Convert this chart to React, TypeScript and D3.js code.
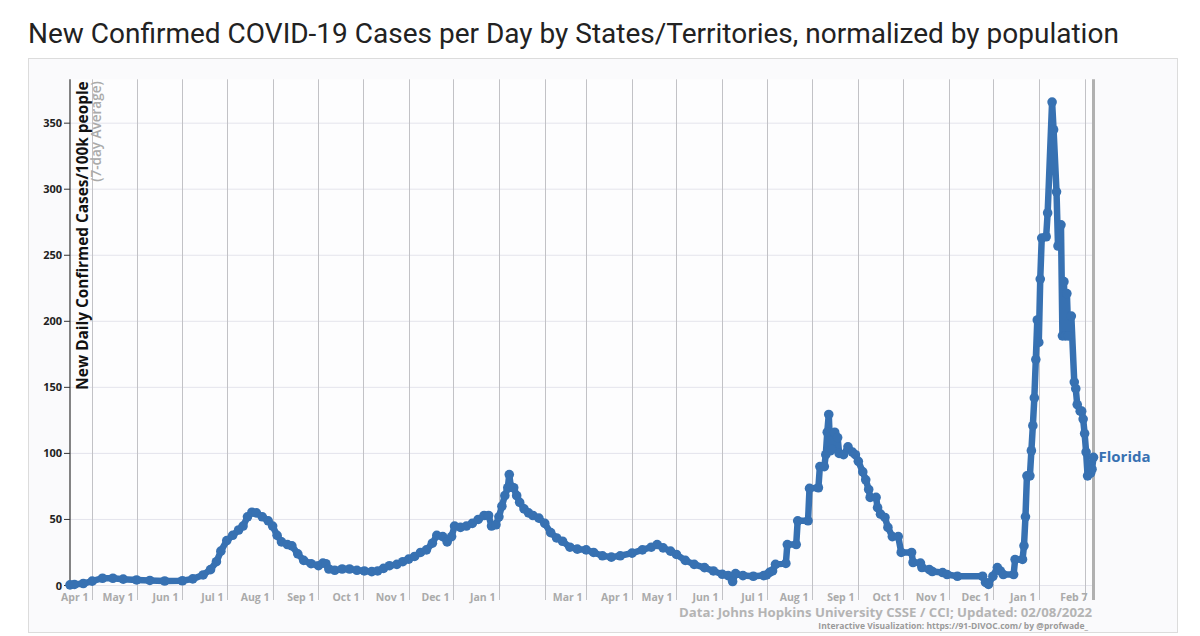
import React from "react";
import * as d3 from "d3";

// ---- Data: Florida, new daily confirmed cases per 100k (7-day average) ----
const dates2020 = [
  "2020-03-17","2020-03-20","2020-03-26","2020-04-01","2020-04-08","2020-04-15","2020-04-22","2020-05-01","2020-05-10","2020-05-20",
  "2020-06-01","2020-06-08","2020-06-15","2020-06-20","2020-06-24","2020-06-27","2020-07-01","2020-07-05","2020-07-09","2020-07-12",
  "2020-07-15","2020-07-18","2020-07-21","2020-07-25","2020-07-29","2020-08-01","2020-08-04","2020-08-07","2020-08-11","2020-08-14",
  "2020-08-18","2020-08-22","2020-08-27","2020-09-01","2020-09-04","2020-09-06","2020-09-08","2020-09-12","2020-09-17","2020-09-22",
  "2020-09-27","2020-10-02","2020-10-07","2020-10-11","2020-10-15","2020-10-19","2020-10-24","2020-10-28","2020-11-01","2020-11-05",
  "2020-11-09","2020-11-13","2020-11-17","2020-11-20","2020-11-24","2020-11-27","2020-11-30","2020-12-02","2020-12-06","2020-12-10",
  "2020-12-14","2020-12-18","2020-12-22","2020-12-25","2020-12-27","2020-12-30",
];
const values2020 = [
  0.5, 0.8, 1.5, 3.3, 5.5, 5.5, 4.8, 4.2, 3.8, 3.4,
  3.6, 5, 8, 12, 18, 26, 34, 38, 42, 45,
  52, 55.5, 55, 52, 49, 45, 38, 33, 31, 30,
  24, 19, 16.5, 15, 17, 16.5, 12.5, 11.5, 12.5, 12.5,
  11.5, 11, 10.5, 11, 13, 15, 16, 18, 20, 22,
  25, 27, 32, 38, 37, 33, 37, 45, 44, 45,
  47, 50, 53, 53, 45, 46,
];

const dates2021a = [
  "2021-01-01","2021-01-03","2021-01-05","2021-01-07","2021-01-08","2021-01-09","2021-01-11","2021-01-13","2021-01-15","2021-01-18",
  "2021-01-21","2021-01-24","2021-01-28","2021-02-01","2021-02-05","2021-02-09","2021-02-13","2021-02-18","2021-02-23","2021-03-01",
  "2021-03-06","2021-03-12","2021-03-18","2021-03-24","2021-04-01","2021-04-08","2021-04-14","2021-04-18","2021-04-22","2021-04-27",
  "2021-05-01","2021-05-07","2021-05-13","2021-05-20","2021-05-26","2021-06-01","2021-06-05","2021-06-08","2021-06-10","2021-06-15",
  "2021-06-22","2021-06-29","2021-07-01","2021-07-03","2021-07-05","2021-07-07","2021-07-14",
];
const values2021a = [
  52, 60, 68, 74, 84, 75, 74, 68, 63, 58,
  55, 53, 51, 47, 40, 36, 33.5, 29, 27.5, 27,
  25, 22.5, 21.5, 22.5, 24.5, 27, 29, 31, 28.5, 26,
  23.5, 19, 16, 13.5, 11, 8.5, 7.5, 3, 9, 7.5,
  7, 7.5, 8, 10, 11, 16, 16.7,
];

const dates2021b = [
  "2021-07-15","2021-07-21","2021-07-22","2021-07-29","2021-07-30","2021-08-05","2021-08-06","2021-08-09","2021-08-10","2021-08-11",
  "2021-08-12","2021-08-13","2021-08-14","2021-08-16","2021-08-18","2021-08-19","2021-08-22","2021-08-25","2021-08-28","2021-08-30",
  "2021-09-01","2021-09-04","2021-09-06","2021-09-08","2021-09-09","2021-09-13","2021-09-14","2021-09-16","2021-09-19","2021-09-21",
  "2021-09-24","2021-09-28","2021-09-30","2021-10-07","2021-10-08","2021-10-13","2021-10-14","2021-10-19","2021-10-21","2021-10-28",
  "2021-10-31","2021-11-07","2021-11-24","2021-11-26","2021-11-28","2021-12-01","2021-12-04","2021-12-06","2021-12-08","2021-12-15",
  "2021-12-16","2021-12-21","2021-12-22","2021-12-23","2021-12-24","2021-12-26","2021-12-27","2021-12-28","2021-12-29","2021-12-30",
  "2021-12-31",
];
const values2021b = [
  31, 31, 49, 49, 73.5, 74, 90, 90, 99, 116,
  129.5, 102, 103, 116, 112, 100, 99, 105, 101, 99,
  94, 86, 80, 72.7, 66.7, 66.7, 59, 54, 51.5, 44,
  37, 37, 25, 25, 17.4, 17, 13.6, 12, 10.6, 9.8,
  8.3, 7, 7, 2.3, 0.8, 7, 13.6, 11, 8.3, 8.3,
  19.7, 19.7, 30, 52, 83, 83, 102, 121, 142, 171,
  201,
];

const dates2022 = [
  "2022-01-01","2022-01-02","2022-01-03","2022-01-06","2022-01-07","2022-01-10","2022-01-11","2022-01-13","2022-01-14","2022-01-16",
  "2022-01-17","2022-01-18","2022-01-19","2022-01-20","2022-01-21","2022-01-23","2022-01-25","2022-01-26","2022-01-27","2022-01-29",
  "2022-01-30","2022-01-31","2022-02-01","2022-02-02","2022-02-03","2022-02-05","2022-02-06","2022-02-07",
];
const values2022 = [
  184, 232, 263, 264, 282, 366, 345, 298, 257, 273,
  189, 230, 189, 221, 189, 204, 154, 149, 137, 132,
  132, 126, 115, 101, 83, 85, 88, 97,
];

const seriesName = "Florida";

const yTicks = [0, 50, 100, 150, 200, 250, 300, 350];

const monthTicks = [
  "2020-04-01","2020-05-01","2020-06-01","2020-07-01","2020-08-01","2020-09-01","2020-10-01","2020-11-01","2020-12-01",
  "2021-01-01","2021-02-01","2021-03-01","2021-04-01","2021-05-01","2021-06-01","2021-07-01","2021-08-01","2021-09-01",
  "2021-10-01","2021-11-01","2021-12-01","2022-01-01","2022-02-01",
];
const monthLabels = [
  "Apr 1","May 1","Jun 1","Jul 1","Aug 1","Sep 1","Oct 1","Nov 1","Dec 1",
  "Jan 1","","Mar 1","Apr 1","May 1","Jun 1","Jul 1","Aug 1","Sep 1",
  "Oct 1","Nov 1","Dec 1","Jan 1","",
];
const endTick = "2022-02-07";
const endLabel = "Feb 7";

const titleText = "New Confirmed COVID-19 Cases per Day by States/Territories, normalized by population";
const yLabel = "New Daily Confirmed Cases/100k people";
const ySubLabel = "(7-day Average)";
const credit1 = "Data: Johns Hopkins University CSSE / CCI; Updated: 02/08/2022";
const credit2 = "Interactive Visualization: https://91-DIVOC.com/ by @profwade_";

const LINE = "#3771b2";
const AXIS_FONT = "'Open Sans', 'DejaVu Sans', sans-serif";

export default function App() {
  const parse = d3.utcParse("%Y-%m-%d");
  const left = 70, right = 1093.5, top = 79.3, bottom = 585.5;

  const x = d3.scaleUtc()
    .domain([parse("2020-03-17") as Date, parse("2022-02-07") as Date])
    .range([left, right]);
  const y = d3.scaleLinear().domain([0, 383.2]).range([bottom, top]);

  const allDates = [...dates2020, ...dates2021a, ...dates2021b, ...dates2022];
  const allValues = [...values2020, ...values2021a, ...values2021b, ...values2022];
  const data = allDates.map((d, i) => ({ date: parse(d) as Date, v: allValues[i] }));

  const line = d3.line<{ date: Date; v: number }>()
    .x((d) => x(d.date))
    .y((d) => y(d.v));

  const last = data[data.length - 1];

  return (
    <svg
      width={1200}
      height={636}
      style={{ position: "absolute", left: 0, top: 0, background: "#ffffff" }}
    >
      <text
        x={28}
        y={43}
        fontFamily="Roboto, 'Open Sans', sans-serif"
        fontSize={28}
        fill="#222"
      >
        {titleText}
      </text>

      {/* panel */}
      <rect x={28.5} y={58.5} width={1149} height={574} fill="#fafafc" stroke="#dcdcdc" />
      <rect x={left} y={top} width={right - left} height={bottom - top} fill="#fdfdfe" />

      {/* horizontal grid */}
      {yTicks.map((t) => (
        <line key={"h" + t} x1={left} x2={right} y1={y(t)} y2={y(t)} stroke="#e4e4ec" strokeWidth={1} />
      ))}

      {/* vertical month grid + labels */}
      {monthTicks.map((m, i) => {
        const xx = Math.round(x(parse(m) as Date)) + 0.5;
        return (
          <g key={"m" + m}>
            <line x1={xx} x2={xx} y1={top} y2={600} stroke="#c2c2c6" strokeWidth={1} />
            {monthLabels[i] && (
              <text
                x={xx - 4}
                y={601}
                textAnchor="end"
                fontFamily={AXIS_FONT}
                fontWeight={700}
                fontSize={10.5}
                fill="#aaaaaa"
              >
                {monthLabels[i]}
              </text>
            )}
          </g>
        );
      })}
      {(() => {
        const xx = x(parse(endTick) as Date);
        return (
          <g>
            <line x1={xx} x2={xx} y1={top} y2={600} stroke="#b0b0b0" strokeWidth={3} />
            <text
              x={xx - 6}
              y={601}
              textAnchor="end"
              fontFamily={AXIS_FONT}
              fontWeight={700}
              fontSize={10.5}
              fill="#aaaaaa"
            >
              {endLabel}
            </text>
          </g>
        );
      })()}

      {/* y axis */}
      <line x1={left} x2={left} y1={top} y2={bottom} stroke="#333" strokeWidth={1.2} />
      {yTicks.map((t) => (
        <g key={"y" + t}>
          <line x1={left - 6} x2={left} y1={y(t)} y2={y(t)} stroke="#333" strokeWidth={1} />
          <text
            x={left - 8}
            y={y(t) + 4}
            textAnchor="end"
            fontFamily={AXIS_FONT}
            fontWeight={700}
            fontSize={11}
            fill="#222"
          >
            {t}
          </text>
        </g>
      ))}
      <text
        transform={`translate(87.5,${top + 2}) rotate(-90)`}
        textAnchor="end"
        fontFamily={AXIS_FONT}
        fontWeight={700}
        fontSize={15.4}
        fill="#111"
      >
        {yLabel}
      </text>
      <text
        transform={`translate(101,${top + 2}) rotate(-90)`}
        textAnchor="end"
        fontFamily={AXIS_FONT}
        fontWeight={600}
        fontSize={13.5}
        fill="#aaaaaa"
      >
        {ySubLabel}
      </text>

      {/* series */}
      <path d={line(data) || ""} fill="none" stroke={LINE} strokeWidth={6.5} strokeLinejoin="round" strokeLinecap="round" />
      {data.map((d, i) => (
        <circle key={"c" + i} cx={x(d.date)} cy={y(d.v)} r={4.8} fill={LINE} />
      ))}
      <text
        x={x(last.date) + 5}
        y={y(last.v) + 5}
        fontFamily={AXIS_FONT}
        fontWeight={700}
        fontSize={15}
        fill={LINE}
      >
        {seriesName}
      </text>

      {/* credits */}
      <text
        x={1092}
        y={617}
        textAnchor="end"
        fontFamily={AXIS_FONT}
        fontWeight={700}
        fontSize={13.2}
        fill="#b4b4b4"
      >
        {credit1}
      </text>
      <text
        x={1088}
        y={629}
        textAnchor="end"
        fontFamily={AXIS_FONT}
        fontWeight={700}
        fontSize={8.5}
        fill="#9a9a9a"
      >
        {credit2}
      </text>
    </svg>
  );
}
